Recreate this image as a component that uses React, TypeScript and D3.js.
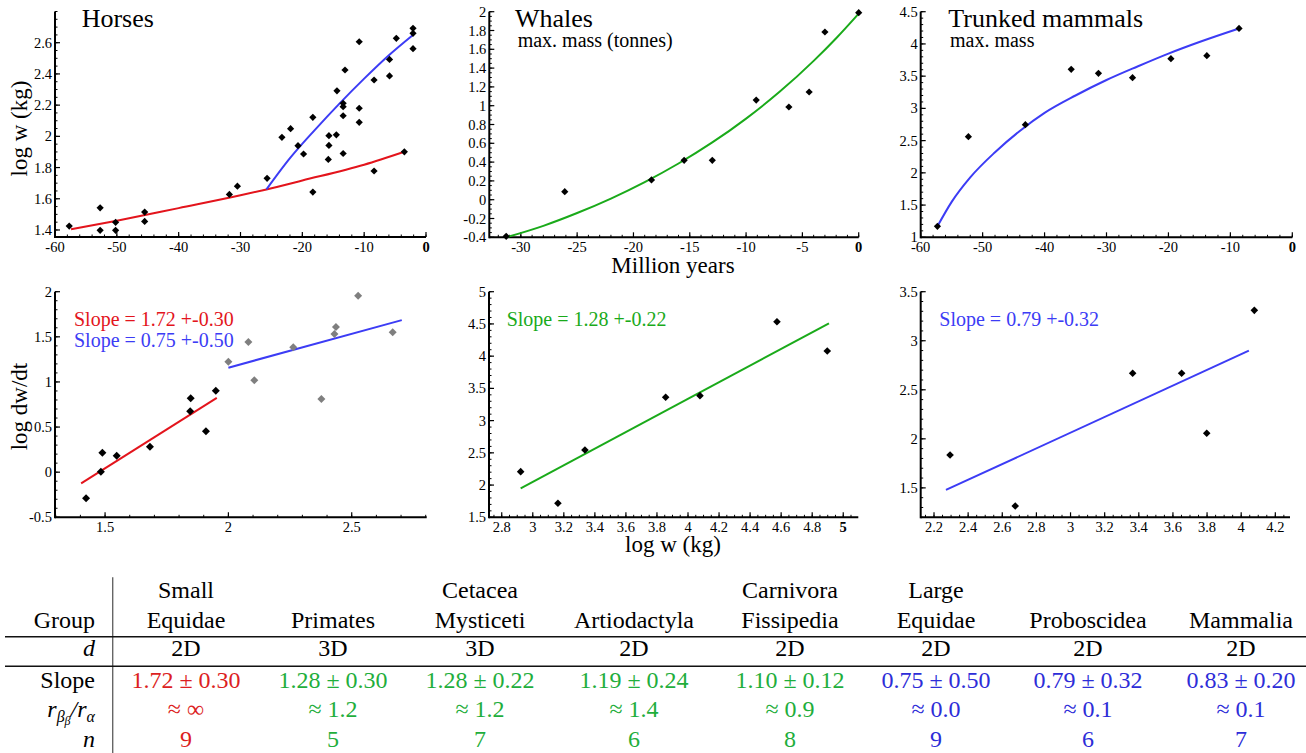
import React, { useEffect } from 'react';
import * as d3 from 'd3';

// ---------------- DATA ----------------
// Horses: time (Myr) vs log10 mass (kg)
const horsesT = [-57.7, -52.7, -52.7, -50.2, -50.2, -45.5, -45.5, -31.8, -30.5, -25.7, -23.3, -21.9, -20.7, -19.8, -18.3, -18.3, -15.7, -15.7, -15.8, -14.5, -14.4, -13.4, -13.4, -13.4, -13.4, -13.1, -10.8, -10.8, -10.8, -8.4, -8.4, -4.8, -5.9, -5.9, -3.5, -2.1, -2.1, -2.1];
const horsesW = [1.425, 1.542, 1.398, 1.449, 1.398, 1.515, 1.455, 1.628, 1.681, 1.731, 1.994, 2.049, 1.94, 1.887, 2.122, 1.643, 2.004, 1.942, 1.852, 2.01, 2.292, 2.212, 2.19, 2.132, 1.89, 2.425, 2.606, 2.18, 2.09, 2.361, 1.778, 2.628, 2.493, 2.387, 1.901, 2.692, 2.66, 2.562];
const horsesRedFitT = [-57.4, -50, -40, -30, -25.8, -20, -10, -3.5];
const horsesRedFitW = [1.404, 1.459, 1.54, 1.622, 1.66, 1.717, 1.818, 1.901];
const horsesBlueFitT = [-25.8, -22, -18, -14, -10, -6, -2.1];
const horsesBlueFitW = [1.66, 1.86, 2.04, 2.21, 2.37, 2.52, 2.65];

// Whales: max mass (log tonnes)
const whalesT = [-31.3, -26.1, -18.4, -15.5, -13.0, -9.1, -6.2, -4.4, -3.0, 0];
const whalesW = [-0.39, 0.085, 0.21, 0.419, 0.419, 1.06, 0.986, 1.146, 1.784, 1.99];
const whalesFitT = [-31.3, -28, -25, -22, -19, -16, -13, -10, -7, -4, -2, 0];
const whalesFitW = [-0.40, -0.278, -0.142, 0.012, 0.187, 0.385, 0.609, 0.863, 1.15, 1.477, 1.718, 1.98];

// Trunked mammals: max mass
const trunkT = [-57.3, -52.3, -43.1, -35.7, -31.3, -25.8, -19.6, -13.8, -8.6];
const trunkW = [1.17, 2.561, 2.747, 3.606, 3.544, 3.476, 3.771, 3.817, 4.24];
const trunkFitT = [-57.3, -55, -52, -48, -44, -40, -35, -30, -25, -20, -15, -8.6];
const trunkFitW = [1.17, 1.55, 1.93, 2.32, 2.65, 2.93, 3.2, 3.44, 3.65, 3.85, 4.03, 4.24];

// Rate plots: log w vs log dw/dt
const smallHorseW = [1.423, 1.483, 1.489, 1.547, 1.682, 1.845, 1.847, 1.909, 1.949];
const smallHorseR = [-0.29, 0.005, 0.216, 0.183, 0.282, 0.675, 0.818, 0.453, 0.903];
const largeHorseW = [2.0, 2.081, 2.105, 2.263, 2.377, 2.43, 2.436, 2.526, 2.666];
const largeHorseR = [1.224, 1.443, 1.018, 1.384, 0.811, 1.531, 1.609, 1.956, 1.55];
const smallHorseFitW = [1.403, 1.953];
const smallHorseFitR = [-0.123, 0.823];
const largeHorseFitW = [2.0, 2.703];
const largeHorseFitR = [1.158, 1.685];

const whaleRateW = [2.922, 3.162, 3.336, 3.856, 4.077, 4.573, 4.897];
const whaleRateR = [2.208, 1.717, 2.544, 3.362, 3.387, 4.534, 4.08];
const whaleRateFitW = [2.922, 4.908];
const whaleRateFitR = [1.95, 4.51];

const trunkRateW = [2.294, 2.676, 3.364, 3.651, 3.798, 4.077];
const trunkRateR = [1.835, 1.315, 2.668, 2.668, 2.057, 3.31];
const trunkRateFitW = [2.27, 4.045];
const trunkRateFitR = [1.479, 2.899];

const slopeLabels = ['Slope = 1.72 +-0.30', 'Slope = 0.75 +-0.50', 'Slope = 1.28 +-0.22', 'Slope = 0.79 +-0.32'];

// Tick labels
const horsesXTicks = [-60, -50, -40, -30, -20, -10, 0];
const horsesYTicks = [1.4, 1.6, 1.8, 2, 2.2, 2.4, 2.6];
const whalesXTicks = [-30, -25, -20, -15, -10, -5, 0];
const whalesYTicks = [-0.4, -0.2, 0, 0.2, 0.4, 0.6, 0.8, 1, 1.2, 1.4, 1.6, 1.8, 2];
const trunkXTicks = [-60, -50, -40, -30, -20, -10, 0];
const trunkYTicks = [1, 1.5, 2, 2.5, 3, 3.5, 4, 4.5];
const horseRateXTicks = [1.5, 2, 2.5];
const horseRateYTicks = [-0.5, 0, 0.5, 1, 1.5, 2];
const whaleRateXTicks = [2.8, 3, 3.2, 3.4, 3.6, 3.8, 4, 4.2, 4.4, 4.6, 4.8, 5];
const whaleRateYTicks = [1.5, 2, 2.5, 3, 3.5, 4, 4.5, 5];
const trunkRateXTicks = [2.2, 2.4, 2.6, 2.8, 3, 3.2, 3.4, 3.6, 3.8, 4, 4.2];
const trunkRateYTicks = [1.5, 2, 2.5, 3, 3.5];

// Table
const groupLine1 = ['Small', '', 'Cetacea', '', 'Carnivora', 'Large', '', ''];
const groupLine2 = ['Equidae', 'Primates', 'Mysticeti', 'Artiodactyla', 'Fissipedia', 'Equidae', 'Proboscidea', 'Mammalia'];
const dims = ['2D', '3D', '3D', '2D', '2D', '2D', '2D', '2D'];
const slopes = ['1.72', '1.28', '1.28', '1.19', '1.10', '0.75', '0.79', '0.83'];
const slopeErrs = ['0.30', '0.30', '0.22', '0.24', '0.12', '0.50', '0.32', '0.20'];
const ratios = ['∞', '1.2', '1.2', '1.4', '0.9', '0.0', '0.1', '0.1'];
const ns = [9, 5, 7, 6, 8, 9, 6, 7];
const groupClass = ['fast', 'mid', 'mid', 'mid', 'mid', 'slow', 'slow', 'slow'];

// ---------------- STYLE / LAYOUT ----------------
const FONT = "'Liberation Serif', 'Times New Roman', Times, serif";
const RED = '#e3141c';
const BLUE = '#3c3cf5';
const GREEN = '#1aaa1a';
const T_RED = '#dc1e22';
const T_GREEN = '#1fae3c';
const T_BLUE = '#2d2dd8';
const classColor: Record<string, string> = { fast: T_RED, mid: T_GREEN, slow: T_BLUE };
const colCenters = [186, 333, 480, 634, 790, 936, 1088, 1241];
const rowY = { h1: 598.3, h2: 627.7, d: 656, slope: 688.3, ratio: 716.7, n: 746.7 };

const fmt = (v: number) => String(+v.toFixed(3));

type Sc = d3.ScaleLinear<number, number>;

function Axes({ x, y, xTicks, yTicks, xMinor, yMinor, boldX }: {
  x: Sc; y: Sc; xTicks: number[]; yTicks: number[]; xMinor: number; yMinor: number; boldX?: number;
}) {
  const [x0, x1] = x.range();
  const [y0, y1] = y.range();
  const [dx0, dx1] = x.domain();
  const [dy0, dy1] = y.domain();
  const xm = d3.range(Math.ceil(dx0 / xMinor - 1e-6), Math.floor(dx1 / xMinor + 1e-6) + 1).map((k) => k * xMinor);
  const ym = d3.range(Math.ceil(dy0 / yMinor - 1e-6), Math.floor(dy1 / yMinor + 1e-6) + 1).map((k) => k * yMinor);
  return (
    <g>
      {xm.map((v, i) => (
        <line key={'xm' + i} x1={x(v)} x2={x(v)} y1={y0} y2={y0 - 2.5} stroke="#000" strokeWidth={1} />
      ))}
      {ym.map((v, i) => (
        <line key={'ym' + i} x1={x0} x2={x0 + 2.5} y1={y(v)} y2={y(v)} stroke="#000" strokeWidth={1} />
      ))}
      {xTicks.map((v, i) => (
        <line key={'xt' + i} x1={x(v)} x2={x(v)} y1={y0} y2={y0 - 5} stroke="#000" strokeWidth={1.2} />
      ))}
      {yTicks.map((v, i) => (
        <line key={'yt' + i} x1={x0} x2={x0 + 5} y1={y(v)} y2={y(v)} stroke="#000" strokeWidth={1.2} />
      ))}
      <line x1={x0} x2={x1} y1={y0} y2={y0} stroke="#000" strokeWidth={2} />
      <line x1={x0} x2={x0} y1={y0 + 1} y2={y1} stroke="#000" strokeWidth={2} />
      {xTicks.map((v, i) => (
        <text key={'xl' + i} x={x(v)} y={y0 + 14.5} textAnchor="middle" fontSize={14.5} fontFamily={FONT}
          fontWeight={boldX !== undefined && Math.abs(v - boldX) < 1e-9 ? 'bold' : 'normal'}>
          {fmt(v)}
        </text>
      ))}
      {yTicks.map((v, i) => (
        <text key={'yl' + i} x={x0 - 3} y={y(v)} dy="0.35em" textAnchor="end" fontSize={14.5} fontFamily={FONT}>
          {fmt(v)}
        </text>
      ))}
    </g>
  );
}

function Diamonds({ x, y, xs, ys, r = 3.8, fill = '#000' }: { x: Sc; y: Sc; xs: number[]; ys: number[]; r?: number; fill?: string }) {
  const sym = d3.symbol(d3.symbolSquare, 2 * r * r)();
  return (
    <g>
      {xs.map((v, i) => (
        <path key={i} d={sym || ''} transform={`translate(${x(v)},${y(ys[i])}) rotate(45)`} fill={fill} />
      ))}
    </g>
  );
}

function Curve({ x, y, xs, ys, color }: { x: Sc; y: Sc; xs: number[]; ys: number[]; color: string }) {
  const line = d3.line<number>().x((v) => x(v)).y((_, i) => y(ys[i])).curve(d3.curveMonotoneX);
  return <path d={line(xs) || ''} fill="none" stroke={color} strokeWidth={2} />;
}

export default function App() {
  useEffect(() => {
    document.body.style.margin = '0';
    document.body.style.overflow = 'hidden';
  }, []);

  // Scales
  const hX = d3.scaleLinear().domain([-60, 0]).range([55, 426]);
  const hY = d3.scaleLinear().domain([1.355, 2.8]).range([237, 11.5]);
  const wX = d3.scaleLinear().domain([-32.8, 0]).range([489.3, 858.7]);
  const wY = d3.scaleLinear().domain([-0.4, 2]).range([237.3, 11.7]);
  const tX = d3.scaleLinear().domain([-60, 0]).range([920.7, 1292.3]);
  const tY = d3.scaleLinear().domain([1, 4.5]).range([237.3, 11.7]);
  const hrX = d3.scaleLinear().domain([1.297, 2.804]).range([55, 426.7]);
  const hrY = d3.scaleLinear().domain([-0.5, 2]).range([517.3, 291.7]);
  const wrX = d3.scaleLinear().domain([2.718, 5.097]).range([489, 858.3]);
  const wrY = d3.scaleLinear().domain([1.5, 5]).range([517.3, 291.7]);
  const trX = d3.scaleLinear().domain([2.122, 4.286]).range([920.7, 1290]);
  const trY = d3.scaleLinear().domain([1.2, 3.5]).range([517.3, 291.7]);

  const ratioTextColor = (i: number) => classColor[groupClass[i]];

  return (
    <svg width={1306} height={753} viewBox="0 0 1306 753" style={{ position: 'absolute', left: 0, top: 0, display: 'block', background: '#fff' }}
      fontFamily={FONT}>
      <rect x={0} y={0} width={1306} height={753} fill="#fff" />

      {/* ---- Horses ---- */}
      <Axes x={hX} y={hY} xTicks={horsesXTicks} yTicks={horsesYTicks} xMinor={2} yMinor={0.05} boldX={0} />
      <Curve x={hX} y={hY} xs={horsesRedFitT} ys={horsesRedFitW} color={RED} />
      <Curve x={hX} y={hY} xs={horsesBlueFitT} ys={horsesBlueFitW} color={BLUE} />
      <Diamonds x={hX} y={hY} xs={horsesT} ys={horsesW} r={3.6} />
      <text x={81.7} y={26.7} fontSize={26}>Horses</text>
      <text transform="translate(27,128.5) rotate(-90)" textAnchor="middle" fontSize={23}>log w (kg)</text>

      {/* ---- Whales ---- */}
      <Axes x={wX} y={wY} xTicks={whalesXTicks} yTicks={whalesYTicks} xMinor={1} yMinor={0.05} boldX={0} />
      <Curve x={wX} y={wY} xs={whalesFitT} ys={whalesFitW} color={GREEN} />
      <Diamonds x={wX} y={wY} xs={whalesT} ys={whalesW} r={3.6} />
      <text x={515} y={26.7} fontSize={26}>Whales</text>
      <text x={517.7} y={46.7} fontSize={20}>max. mass (tonnes)</text>
      <text x={673} y={273} textAnchor="middle" fontSize={23}>Million years</text>

      {/* ---- Trunked mammals ---- */}
      <Axes x={tX} y={tY} xTicks={trunkXTicks} yTicks={trunkYTicks} xMinor={2} yMinor={0.1} boldX={0} />
      <Curve x={tX} y={tY} xs={trunkFitT} ys={trunkFitW} color={BLUE} />
      <Diamonds x={tX} y={tY} xs={trunkT} ys={trunkW} r={3.6} />
      <text x={948.3} y={26.7} fontSize={26}>Trunked mammals</text>
      <text x={950} y={46.7} fontSize={20}>max. mass</text>

      {/* ---- Horses rate ---- */}
      <Axes x={hrX} y={hrY} xTicks={horseRateXTicks} yTicks={horseRateYTicks} xMinor={0.1} yMinor={0.1} />
      <Curve x={hrX} y={hrY} xs={smallHorseFitW} ys={smallHorseFitR} color={RED} />
      <Curve x={hrX} y={hrY} xs={largeHorseFitW} ys={largeHorseFitR} color={BLUE} />
      <Diamonds x={hrX} y={hrY} xs={largeHorseW} ys={largeHorseR} r={4} fill="#7f7f7f" />
      <Diamonds x={hrX} y={hrY} xs={smallHorseW} ys={smallHorseR} r={4} />
      <text x={74} y={325.7} fontSize={20} fill={RED}>{slopeLabels[0]}</text>
      <text x={74} y={346.7} fontSize={20} fill={BLUE}>{slopeLabels[1]}</text>
      <text transform="translate(27,406.5) rotate(-90)" textAnchor="middle" fontSize={23}>log dw/dt</text>

      {/* ---- Whales rate ---- */}
      <Axes x={wrX} y={wrY} xTicks={whaleRateXTicks} yTicks={whaleRateYTicks} xMinor={0.05} yMinor={0.1} boldX={5} />
      <Curve x={wrX} y={wrY} xs={whaleRateFitW} ys={whaleRateFitR} color={GREEN} />
      <Diamonds x={wrX} y={wrY} xs={whaleRateW} ys={whaleRateR} r={3.8} />
      <text x={506.7} y={325.7} fontSize={20} fill={GREEN}>{slopeLabels[2]}</text>
      <text x={673} y={552} textAnchor="middle" fontSize={23}>log w (kg)</text>

      {/* ---- Trunked rate ---- */}
      <Axes x={trX} y={trY} xTicks={trunkRateXTicks} yTicks={trunkRateYTicks} xMinor={0.05} yMinor={0.1} />
      <Curve x={trX} y={trY} xs={trunkRateFitW} ys={trunkRateFitR} color={BLUE} />
      <Diamonds x={trX} y={trY} xs={trunkRateW} ys={trunkRateR} r={3.8} />
      <text x={939.3} y={325.7} fontSize={20} fill={BLUE}>{slopeLabels[3]}</text>

      {/* ---- Table ---- */}
      <g fontSize={24}>
        <line x1={112.7} x2={112.7} y1={577.3} y2={753} stroke="#666" strokeWidth={1.4} />
        <line x1={5} x2={1306} y1={636.7} y2={636.7} stroke="#111" strokeWidth={1.4} />
        <line x1={5} x2={1306} y1={666.2} y2={666.2} stroke="#111" strokeWidth={1.4} />
        <text x={95} y={rowY.h2} textAnchor="end">Group</text>
        <text x={95} y={rowY.d} textAnchor="end" fontStyle="italic">d</text>
        <text x={95} y={rowY.slope} textAnchor="end">Slope</text>
        <text x={95} y={rowY.ratio} textAnchor="end" fontStyle="italic">
          r<tspan fontSize={16} dy={5}>β</tspan><tspan fontSize={12} dy={3}>β</tspan><tspan dy={-8}>/r</tspan><tspan fontSize={16} dy={5}>α</tspan>
        </text>
        <text x={95} y={rowY.n} textAnchor="end" fontStyle="italic">n</text>
        {groupLine2.map((g, i) => (
          <g key={'col' + i}>
            {groupLine1[i] && <text x={colCenters[i]} y={rowY.h1} textAnchor="middle">{groupLine1[i]}</text>}
            <text x={colCenters[i]} y={rowY.h2} textAnchor="middle">{g}</text>
            <text x={colCenters[i]} y={rowY.d} textAnchor="middle">{dims[i]}</text>
            <text x={colCenters[i]} y={rowY.slope} textAnchor="middle" fill={ratioTextColor(i)}>{`${slopes[i]} ± ${slopeErrs[i]}`}</text>
            <text x={colCenters[i]} y={rowY.ratio} textAnchor="middle" fill={ratioTextColor(i)}>{`≈ ${ratios[i]}`}</text>
            <text x={colCenters[i]} y={rowY.n} textAnchor="middle" fill={ratioTextColor(i)}>{ns[i]}</text>
          </g>
        ))}
      </g>
    </svg>
  );
}
